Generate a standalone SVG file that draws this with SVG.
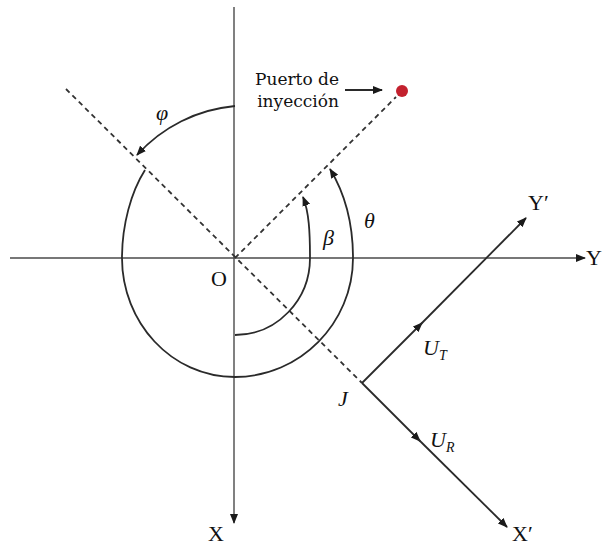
<svg xmlns="http://www.w3.org/2000/svg" width="603" height="546" viewBox="0 0 603 546">
<style>
.axis{stroke:#4a4a4a;stroke-width:1.4;fill:none}
.dash{stroke:#333;stroke-width:1.8;stroke-dasharray:5 4;fill:none}
.vec{stroke:#2a2a2a;stroke-width:1.8;fill:none}
.arc{stroke:#2a2a2a;stroke-width:1.8;fill:none}
.lbl{font-family:"Liberation Serif","DejaVu Serif",serif;font-size:22px;fill:#111}
.it{font-family:"Liberation Serif","DejaVu Serif",serif;font-style:italic;font-size:22px;fill:#111}
.sub{font-size:14px}
.note{font-family:"DejaVu Serif","Liberation Serif",serif;font-size:17px;fill:#111}
</style>
<defs>
<marker id="ah" viewBox="0 0 10 8" refX="9" refY="4" markerWidth="10" markerHeight="8" markerUnits="userSpaceOnUse" orient="auto">
<path d="M0,0 L10,4 L0,8 Z" fill="#1a1a1a"/>
</marker>
</defs>
<rect width="603" height="546" fill="#fff"/>
<g id="connectors">
<line class="axis" x1="10" y1="258" x2="585" y2="258" marker-end="url(#ah)"/>
<line class="axis" x1="234" y1="7" x2="234" y2="523" marker-end="url(#ah)"/>
<line class="dash" x1="235" y1="258" x2="396" y2="97"/>
<line class="dash" x1="66" y1="89" x2="362" y2="383"/>
<line class="vec" x1="362" y1="383" x2="422" y2="323" marker-end="url(#ah)"/>
<line class="vec" x1="420" y1="325" x2="526" y2="218" marker-end="url(#ah)"/>
<line class="vec" x1="362" y1="383" x2="420" y2="441" marker-end="url(#ah)"/>
<line class="vec" x1="418" y1="439" x2="507" y2="527" marker-end="url(#ah)"/>
<line class="vec" x1="345" y1="90" x2="382" y2="90" stroke-width="2.4" marker-end="url(#ah)"/>
<path class="arc" d="M235 106 A150 150 0 0 0 137 155" marker-end="url(#ah)"/>
<path class="arc" d="M145 170 C131 192 122 225 122 258 C122 322 171 377 235 377 C300 377 353 323 353 258 C353 222 344 192 330 169" marker-end="url(#ah)"/>
<path class="arc" d="M235 335 C277 335 310 300 310 258 C310 232 309 212 303 197" marker-end="url(#ah)"/>
</g>
<g id="injection-port">
<circle cx="402" cy="91" r="6" fill="#c3212e"/>
<text class="note" x="297" y="85" text-anchor="middle">Puerto de</text>
<text class="note" x="298" y="107" text-anchor="middle">inyección</text>
</g>
<g id="origin"><text class="lbl" x="211" y="286">O</text></g>
<g id="axis-x"><text class="lbl" x="208" y="541">X</text></g>
<g id="axis-y"><text class="lbl" x="586" y="265" font-size="18">Y</text></g>
<g id="axis-xp"><text class="lbl" x="512" y="541">X′</text></g>
<g id="axis-yp"><text class="lbl" x="528" y="210">Y′</text></g>
<g id="point-j"><text class="it" x="338" y="406">J</text></g>
<g id="angle-phi"><text class="it" x="156" y="120">φ</text></g>
<g id="angle-theta"><text class="it" x="364" y="228">θ</text></g>
<g id="angle-beta"><text class="it" x="323" y="245">β</text></g>
<g id="vec-ut"><text class="it" x="423" y="355">U<tspan class="sub" dy="5">T</tspan></text></g>
<g id="vec-ur"><text class="it" x="430" y="447">U<tspan class="sub" dy="5">R</tspan></text></g>
</svg>
